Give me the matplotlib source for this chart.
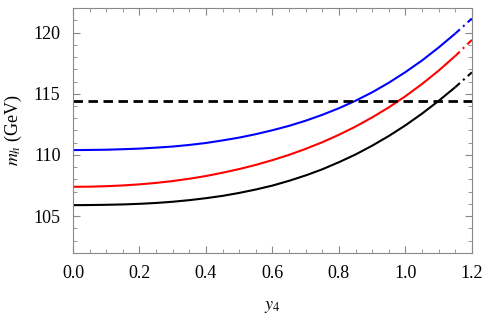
import matplotlib
matplotlib.use('Agg')

import matplotlib.pyplot as plt
import numpy as np
from matplotlib.ticker import MultipleLocator, FormatStrFormatter

# values
y4 = [0.0, 0.05, 0.1, 0.15, 0.2, 0.25, 0.3, 0.35, 0.4, 0.45, 0.5, 0.55,
      0.6, 0.65, 0.7, 0.75, 0.8, 0.85, 0.9, 0.95, 1.0, 1.05, 1.1, 1.15, 1.2]
mh_blue = [110.40, 110.41, 110.43, 110.47, 110.52, 110.60, 110.69, 110.82,
           110.98, 111.19, 111.42, 111.70, 112.02, 112.38, 112.80, 113.28,
           113.82, 114.43, 115.12, 115.90, 116.77, 117.72, 118.78, 119.92,
           121.15]
mh_red = [107.40, 107.41, 107.45, 107.51, 107.60, 107.72, 107.87, 108.06,
          108.28, 108.55, 108.85, 109.19, 109.58, 110.01, 110.50, 111.04,
          111.65, 112.32, 113.07, 113.89, 114.80, 115.80, 116.89, 118.09,
          119.40]
mh_black = [105.90, 105.91, 105.93, 105.96, 106.01, 106.08, 106.18, 106.31,
            106.47, 106.66, 106.90, 107.18, 107.50, 107.89, 108.33, 108.83,
            109.41, 110.04, 110.76, 111.55, 112.42, 113.38, 114.42, 115.54,
            116.75]
lep_bound = 114.4
y4_cut = 1.15   # solid below, dot-dashed above

plt.rcParams['font.family'] = ['Liberation Serif', 'DejaVu Serif']
plt.rcParams['mathtext.fontset'] = 'stix'

fig = plt.figure(figsize=(4.85, 3.23), dpi=100)
ax = fig.add_axes([0.1505, 0.217, 0.8225, 0.758])

x = np.array(y4)
solid = x <= y4_cut + 1e-9
dash = x >= y4_cut - 1e-9
for ys, c in [(mh_blue, 'blue'), (mh_red, 'red'), (mh_black, 'black')]:
    ys = np.array(ys)
    ax.plot(x[solid], ys[solid], color=c, lw=1.5, solid_capstyle='butt')
    ax.plot(x[dash], ys[dash], color=c, lw=1.5,
            linestyle=(1, (4, 2, 1, 2)))

ax.axhline(lep_bound, color='black', lw=2.0, dashes=(3.4, 2.0))

ax.set_xlim(0, 1.2)
ax.set_ylim(102, 122)
ax.xaxis.set_major_locator(MultipleLocator(0.2))
ax.xaxis.set_minor_locator(MultipleLocator(0.05))
ax.yaxis.set_major_locator(MultipleLocator(5))
ax.yaxis.set_minor_locator(MultipleLocator(1))
ax.xaxis.set_major_formatter(FormatStrFormatter('%.1f'))

ax.tick_params(which='both', direction='in', top=True, right=True,
               color='#888888', labelsize=13, labelcolor='black')
ax.tick_params(which='major', length=5, width=0.8, pad=9)
ax.tick_params(which='minor', length=3, width=0.6)
for sp in ax.spines.values():
    sp.set_color('#888888')
    sp.set_linewidth(0.8)

ax.set_xlabel('$y_4$', fontsize=13, labelpad=11)
ax.set_ylabel('$m_h$ (GeV)', fontsize=13, labelpad=7)

plt.savefig('out.png', dpi=100)
